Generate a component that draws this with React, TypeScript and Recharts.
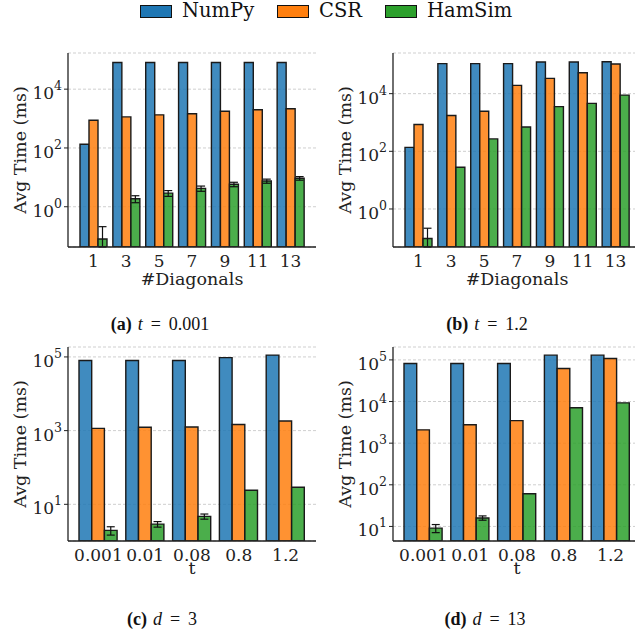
import { BarChart, Bar, XAxis, YAxis, CartesianGrid, ErrorBar } from "recharts";

// categories
const diagonals = ["1", "3", "5", "7", "9", "11", "13"];
const tValues = ["0.001", "0.01", "0.08", "0.8", "1.2"];

// (a) t = 0.001
const numpyA = [134, 81000, 81000, 81000, 81000, 81000, 81000];
const csrA = [880, 1140, 1340, 1450, 1780, 1990, 2160];
const hamA = [0.08, 1.87, 2.9, 4.2, 5.8, 7.5, 9.3];
const hamErrA = [0.13, 0.5, 0.65, 0.85, 1.0, 1.2, 1.3];

// (b) t = 1.2
const numpyB = [137, 110000, 110000, 110000, 126000, 126000, 128000];
const csrB = [850, 1740, 2450, 19400, 34000, 53000, 107000];
const hamB = [0.095, 28, 270, 700, 3550, 4600, 8900];
const hamErrB = [0.12, null, null, null, null, null, null];

// (c) d = 3
const numpyC = [80000, 80000, 80000, 96000, 112000];
const csrC = [1150, 1240, 1250, 1460, 1830];
const hamC = [1.96, 2.9, 4.7, 24, 29];
const hamErrC = [0.5, 0.5, 0.75, null, null];

// (d) d = 13
const numpyD = [82000, 82000, 82000, 130000, 130000];
const csrD = [2090, 2760, 3480, 62000, 108000];
const hamD = [9.1, 16, 61, 7100, 9300];
const hamErrD = [2, 1.9, null, null, null];

const domainA: [number, number] = [0.0427, 170000];
const domainB: [number, number] = [0.048, 257000];
const domainC: [number, number] = [1.01, 186000];
const domainD: [number, number] = [4.47, 204000];

const FONT = "'DejaVu Serif', serif";
const CAPTION_FONT = "'Liberation Serif', serif";
const BLUE = "#1f77b4";
const ORANGE = "#ff7f0e";
const GREEN = "#2ca02c";

// lower whisker is cut at the bottom of the axis (log scale can't go below it)
function buildRows(
  labels: string[],
  numpy: number[],
  csr: number[],
  ham: number[],
  err: (number | null)[],
  floor: number
) {
  return labels.map((label, i) => {
    const e = err[i];
    return {
      label,
      numpy: numpy[i],
      csr: csr[i],
      ham: ham[i],
      hamErr: e == null ? null : [Math.min(e, ham[i] - floor), e],
    };
  });
}

function PowTick({ x, y, payload }: any) {
  const exp = Math.round(Math.log10(payload.value));
  return (
    <text x={x} y={y + 10} textAnchor="end" fontFamily={FONT} fontSize={17} fill="#222">
      10
      <tspan dy={-9} fontSize={12.5}>
        {exp}
      </tspan>
    </text>
  );
}

function XTick({ x, y, payload }: any) {
  return (
    <text x={x} y={y + 17.5} textAnchor="middle" fontFamily={FONT} fontSize={17} fill="#222">
      {payload.value}
    </text>
  );
}

function XLabel({ viewBox, text, dy }: any) {
  const { x, y, width } = viewBox;
  return (
    <text x={x + width / 2} y={y + dy} textAnchor="middle" fontFamily={FONT} fontSize={17.5} fill="#222">
      {text}
    </text>
  );
}

function YLabel({ viewBox }: any) {
  const { y, height } = viewBox;
  const cx = 19.5;
  const cy = y + height / 2;
  return (
    <text
      x={cx}
      y={cy}
      transform={`rotate(-90 ${cx} ${cy})`}
      textAnchor="middle"
      dominantBaseline="central"
      fontFamily={FONT}
      fontSize={17.5}
      fill="#222"
    >
      Avg Time (ms)
    </text>
  );
}

interface PanelProps {
  rows: any[];
  domain: [number, number];
  ticks: number[];
  xLabel: string;
  labelDy: number;
  barSize: number;
  pad: number;
}

function Panel({ rows, domain, ticks, xLabel, labelDy, barSize, pad }: PanelProps) {
  const edge = { stroke: "#1a1a1a", strokeWidth: 1.4 };
  return (
    <BarChart
      width={330}
      height={252}
      data={rows}
      margin={{ top: 13, right: 14, left: 0, bottom: 0 }}
      barGap={0}
      barSize={barSize}
    >
      <CartesianGrid vertical={false} stroke="#cfcfcf" strokeDasharray="3 2" />
      <XAxis
        dataKey="label"
        interval={0}
        height={45}
        padding={{ left: pad, right: pad }}
        tickLine={false}
        tickSize={0}
        axisLine={{ stroke: "#222", strokeWidth: 1.3 }}
        tick={<XTick />}
        label={<XLabel text={xLabel} dy={labelDy} />}
      />
      <YAxis
        type="number"
        scale="log"
        domain={domain}
        allowDataOverflow
        ticks={ticks}
        width={68}
        tickSize={4}
        tickMargin={2}
        tickLine={{ stroke: "#222" }}
        axisLine={{ stroke: "#222", strokeWidth: 1.3 }}
        tick={<PowTick />}
        label={<YLabel />}
      />
      <Bar dataKey="numpy" fill={BLUE} fillOpacity={0.85} {...edge} isAnimationActive={false} />
      <Bar dataKey="csr" fill={ORANGE} fillOpacity={0.85} {...edge} isAnimationActive={false} />
      <Bar dataKey="ham" fill={GREEN} fillOpacity={0.85} {...edge} isAnimationActive={false}>
        <ErrorBar dataKey="hamErr" width={4} stroke="#111" strokeWidth={1.2} isAnimationActive={false} />
      </Bar>
    </BarChart>
  );
}

function Caption({ left, top, tag, sym, val }: any) {
  return (
    <div
      style={{
        position: "absolute",
        left,
        top,
        width: 200,
        textAlign: "center",
        fontFamily: CAPTION_FONT,
        fontSize: 18,
        lineHeight: "22px",
        color: "#111",
        whiteSpace: "nowrap",
      }}
    >
      <b>{tag}</b>
      <i style={{ marginLeft: 6 }}>{sym}</i>
      <span style={{ marginLeft: 8 }}>=</span>
      <span style={{ marginLeft: 8 }}>{val}</span>
    </div>
  );
}

const legendItems = [
  { name: "NumPy", color: BLUE, x: 140 },
  { name: "CSR", color: ORANGE, x: 277 },
  { name: "HamSim", color: GREEN, x: 385 },
];

export default function App() {
  const rowsA = buildRows(diagonals, numpyA, csrA, hamA, hamErrA, domainA[0]);
  const rowsB = buildRows(diagonals, numpyB, csrB, hamB, hamErrB, domainB[0]);
  const rowsC = buildRows(tValues, numpyC, csrC, hamC, hamErrC, domainC[0]);
  const rowsD = buildRows(tValues, numpyD, csrD, hamD, hamErrD, domainD[0]);

  return (
    <div
      style={{
        position: "absolute",
        left: 0,
        top: 0,
        width: 635,
        height: 635,
        overflow: "hidden",
        background: "#fff",
      }}
    >
      {legendItems.map((it) => (
        <div key={it.name}>
          <div
            style={{
              position: "absolute",
              left: it.x,
              top: 5,
              width: 32,
              height: 13,
              boxSizing: "border-box",
              border: "1.3px solid #111",
              background: it.color,
            }}
          />
          <span
            style={{
              position: "absolute",
              left: it.x + 42,
              top: 0,
              fontFamily: FONT,
              fontSize: 19.5,
              lineHeight: "22px",
              color: "#111",
              whiteSpace: "nowrap",
            }}
          >
            {it.name}
          </span>
        </div>
      ))}

      <div style={{ position: "absolute", left: 0, top: 40 }}>
        <Panel rows={rowsA} domain={domainA} ticks={[1, 100, 10000]} xLabel="#Diagonals" labelDy={38} barSize={9} pad={9} />
      </div>
      <div style={{ position: "absolute", left: 325, top: 40 }}>
        <Panel rows={rowsB} domain={domainB} ticks={[1, 100, 10000]} xLabel="#Diagonals" labelDy={38} barSize={9} pad={9} />
      </div>
      <div style={{ position: "absolute", left: 0, top: 333.7 }}>
        <Panel rows={rowsC} domain={domainC} ticks={[10, 1000, 100000]} xLabel="t" labelDy={33} barSize={12.7} pad={7} />
      </div>
      <div style={{ position: "absolute", left: 325, top: 333.7 }}>
        <Panel rows={rowsD} domain={domainD} ticks={[10, 100, 1000, 10000, 100000]} xLabel="t" labelDy={33} barSize={12.7} pad={7} />
      </div>

      <Caption left={60} top={313} tag="(a)" sym="t" val="0.001" />
      <Caption left={387} top={313} tag="(b)" sym="t" val="1.2" />
      <Caption left={62} top={608} tag="(c)" sym="d" val="3" />
      <Caption left={385} top={608} tag="(d)" sym="d" val="13" />
    </div>
  );
}
